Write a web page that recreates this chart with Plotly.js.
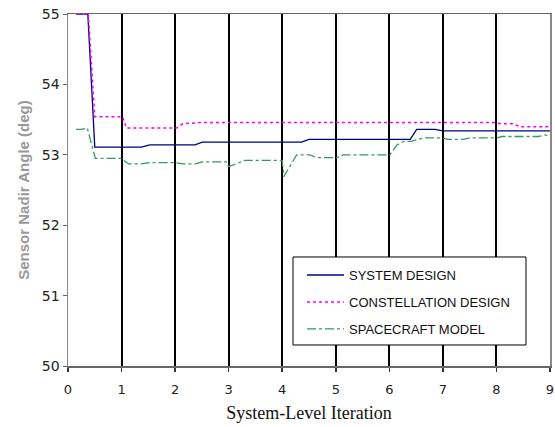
<!DOCTYPE html>
<html>
<head>
<meta charset="utf-8">
<script src="https://cdn.plot.ly/plotly-3.0.1.min.js"></script>
<style>html,body{margin:0;padding:0;background:#fff;}#chart{width:555px;height:427px;}</style>
</head>
<body>
<div id="chart"></div>
<script>
// Series names
const seriesNames = ["SYSTEM DESIGN", "CONSTELLATION DESIGN", "SPACECRAFT MODEL"];

// SYSTEM DESIGN
const sysX = [0.15, 0.37, 0.5, 1.37, 1.53, 2.37, 2.51, 4.36, 4.5, 6.39, 6.51, 6.85, 7.0, 9.0];
const sysY = [55, 55, 53.11, 53.11, 53.14, 53.14, 53.18, 53.18, 53.22, 53.22, 53.36, 53.36, 53.34, 53.34];

// CONSTELLATION DESIGN
const conX = [0.15, 0.38, 0.5, 1.02, 1.09, 2.03, 2.14, 2.5, 7.94, 8.1, 8.3, 8.44, 9.0];
const conY = [55, 55, 53.54, 53.54, 53.38, 53.38, 53.44, 53.46, 53.46, 53.44, 53.44, 53.40, 53.40];

// SPACECRAFT MODEL
const scX = [0.15, 0.25, 0.36, 0.51, 0.99, 1.13, 1.37, 1.53, 1.99, 2.15, 2.37, 2.51, 2.96, 3.0, 3.3, 4.0, 4.03, 4.27, 4.52, 4.64, 5.02, 5.14, 6.01, 6.14, 6.27, 6.4, 6.64, 6.95, 7.1, 7.38, 7.5, 8.0, 8.1, 8.78, 8.9, 9.0];
const scY = [53.36, 53.36, 53.38, 52.95, 52.95, 52.87, 52.87, 52.89, 52.89, 52.87, 52.87, 52.90, 52.90, 52.83, 52.92, 52.92, 52.69, 53.0, 53.0, 52.96, 52.96, 53.0, 53.0, 53.14, 53.19, 53.19, 53.24, 53.24, 53.22, 53.22, 53.24, 53.24, 53.26, 53.26, 53.28, 53.28];

// Axis labels
const xTitle = "System-Level Iteration";
const yTitle = "Sensor Nadir Angle (deg)";
const xTicks = [0, 1, 2, 3, 4, 5, 6, 7, 8, 9];
const yTicks = [50, 51, 52, 53, 54, 55];

const traces = [
  {x: sysX, y: sysY, name: seriesNames[0], legendgroup: "a", mode: "lines",
   line: {color: "#000080", width: 1.3}},
  {x: conX, y: conY, name: seriesNames[1], legendgroup: "b", mode: "lines",
   line: {color: "#FF00FF", width: 1.5, dash: "dot"}},
  {x: scX, y: scY, name: seriesNames[2], legendgroup: "c", mode: "lines",
   line: {color: "#339966", width: 1.3, dash: "dashdot"}}
];

const layout = {
  width: 555, height: 427,
  margin: {l: 68, r: 5, t: 14, b: 61},
  paper_bgcolor: "#fff", plot_bgcolor: "#fff",
  showlegend: true,
  legend: {
    x: 0.4855, y: 0.301, xanchor: "left", yanchor: "top",
    bgcolor: "rgba(0,0,0,0)", borderwidth: 0,
    font: {family: "Liberation Sans, Arial, sans-serif", size: 13, color: "#111"},
    traceorder: "grouped", tracegroupgap: 7, itemwidth: 37
  },
  shapes: [
    {type: "rect", xref: "paper", yref: "paper", x0: 0.4668, x1: 0.9502, y0: 0.0597, y1: 0.3097,
     line: {color: "#000", width: 1}, fillcolor: "#fff", layer: "above"}
  ],
  xaxis: {
    range: [0, 9], tickvals: xTicks, ticktext: xTicks.map(String),
    showgrid: true, gridcolor: "#000", gridwidth: 2,
    zeroline: false, showline: true, linecolor: "#666", linewidth: 1.5, mirror: true,
    ticks: "outside", ticklen: 4, tickcolor: "#333", tickwidth: 1.5,
    ticklabelstandoff: 7,
    tickfont: {family: "DejaVu Sans, Verdana, sans-serif", size: 13, color: "#222"},
    title: {text: xTitle, font: {family: "Liberation Serif, Times New Roman, serif", size: 18, color: "#111"}, standoff: 10}
  },
  yaxis: {
    range: [50, 55], tickvals: yTicks, ticktext: yTicks.map(String),
    showgrid: false, zeroline: false, showline: true, linecolor: "#888", linewidth: 1.5, mirror: true,
    ticks: "outside", ticklen: 4, tickcolor: "#666", tickwidth: 1,
    tickfont: {family: "DejaVu Sans, Verdana, sans-serif", size: 14, color: "#222"},
    title: {text: yTitle, font: {family: "Liberation Sans, Arial, sans-serif", size: 15, color: "#999", weight: "bold"}, standoff: 8}
  }
};

Plotly.newPlot("chart", traces, layout, {displayModeBar: false, staticPlot: true});
</script>
</body>
</html>
